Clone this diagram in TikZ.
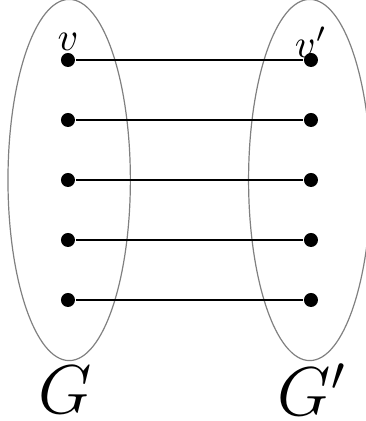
\documentclass[tikz,border=0pt]{standalone}
\usepackage{amsmath, amssymb}
\usepackage{tikz}
\usetikzlibrary{calc}
\definecolor{ecol}{HTML}{808080}
\tikzset{
  vdot/.style={circle, fill=black, inner sep=0pt, minimum size=3.5pt},
  blob/.style={ecol, line width=0.3pt},
  match/.style={black, line width=0.3pt},
  glabel/.style={font=\LARGE, inner sep=0pt}
}

\begin{document}
\begin{tikzpicture}[x=15pt, y=15pt]
\useasboundingbox (-1.133,3) rectangle (4.967,-4.017);
\draw[blob] (0.02,0) ellipse (1.02 and 3.01);
\draw[blob] (4.03,0) ellipse (1.02 and 3.01);
\foreach \i/\y in {1/2, 2/1, 3/0, 4/-1, 5/-2} {
  \node[vdot] (l\i) at (0,\y) {};
  \node[vdot] (r\i) at (4.05,\y) {};
  \draw[match] (l\i) -- (r\i);
}
\node at (0,2.3) {$v$};
\node at (4.05,2.3) {$v'$};
\node[glabel] (g) at (-0.05,-3.5) {$G$};
\node[glabel] (gp) at (4.07,-3.5) {$G'$};
\end{tikzpicture}
\end{document}
